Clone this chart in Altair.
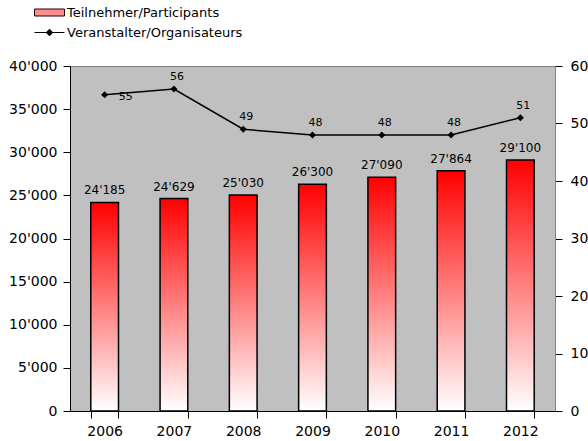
import altair as alt
import pandas as pd

years = ["2006", "2007", "2008", "2009", "2010", "2011", "2012"]
participants = [24185, 24629, 25030, 26300, 27090, 27864, 29100]
organisers = [55, 56, 49, 48, 48, 48, 51]
series = ["Teilnehmer/Participants", "Veranstalter/Organisateurs"]
left_ticks = [0, 5000, 10000, 15000, 20000, 25000, 30000, 35000, 40000]
right_ticks = [0, 10, 20, 30, 40, 50, 60]

df = pd.DataFrame({"year": years, "participants": participants, "organisers": organisers})

FONT = "DejaVu Sans"
fmt_axis = "replace(format(datum.value, ','), ',', \"'\")"
fmt_bar = "replace(format(datum.participants, ','), ',', \"'\")"

x = alt.X(
    "year:N", title=None, sort=years,
    scale=alt.Scale(paddingInner=0.6, paddingOuter=0.3),
    axis=alt.Axis(labelAngle=0, tickBand="extent", tickSize=7, tickColor="black",
                  domainColor="black", labelFontSize=14, labelPadding=6),
)

gradient = alt.LinearGradient(
    gradient="linear",
    stops=[alt.GradientStop(color="#ff0000", offset=0), alt.GradientStop(color="#ffffff", offset=1)],
    x1=0, x2=0, y1=0, y2=1,
)

y_left = alt.Y(
    "participants:Q", title=None, scale=alt.Scale(domain=[0, 40000]),
    axis=alt.Axis(values=left_ticks, labelExpr=fmt_axis, grid=False, tickSize=7,
                  tickColor="black", domainColor="black", labelFontSize=14, labelPadding=6),
)

base = alt.Chart(df)

bars = base.mark_bar(fill=gradient, stroke="black", strokeWidth=1.5).encode(x=x, y=y_left)
bar_text = base.transform_calculate(lbl=fmt_bar).mark_text(
    dy=-12, fontSize=12, font=FONT, color="black", baseline="middle"
).encode(x=x, y="participants:Q", text="lbl:N")

left = alt.layer(bars, bar_text)

y_right = alt.Y(
    "organisers:Q", title=None, scale=alt.Scale(domain=[0, 60]),
    axis=alt.Axis(orient="right", values=right_ticks, grid=False, tickSize=7,
                  tickColor="black", domainColor="#808080", labelFontSize=14, labelPadding=8),
)

line = base.mark_line(color="black", strokeWidth=1.5).encode(x=x, y=y_right)
pts = base.mark_point(shape="diamond", filled=True, color="black", size=50, opacity=1).encode(x=x, y="organisers:Q")
lab_first = base.transform_filter("datum.year == '2006'").mark_text(
    dx=21, dy=2, fontSize=11, font=FONT, color="black", baseline="middle"
).encode(x=x, y="organisers:Q", text="organisers:Q")
lab_rest = base.transform_filter("datum.year != '2006'").mark_text(
    dx=3, dy=-12, fontSize=11, font=FONT, color="black", baseline="middle"
).encode(x=x, y="organisers:Q", text="organisers:Q")

rect_path = "M-3,-0.7H3V0.7H-3Z"
line_path = "M-3,-0.12H3V0.12H-3ZM0,-0.75L0.75,0L0,0.75L-0.75,0Z"
common = dict(
    title=None, orient="none", legendX=-27, legendY=-60, symbolSize=100,
    labelOffset=11, rowPadding=6, padding=0, labelFontSize=13, labelFont=FONT,
    labelColor="black", labelLimit=0,
)
leg_fill = alt.Legend(symbolOpacity=1, **common)
leg_outline = alt.Legend(symbolStrokeWidth=1, **common)

legend_fill = base.transform_calculate(s="'Veranstalter/Organisateurs'").mark_point(
    filled=True, size=0
).encode(
    x=x, y="organisers:Q",
    color=alt.Color("s:N", scale=alt.Scale(domain=series, range=["#ff8c8c", "black"]), legend=leg_fill),
    shape=alt.Shape("s:N", scale=alt.Scale(domain=series, range=[rect_path, line_path]), legend=leg_fill),
)
legend_outline = base.transform_calculate(s2="'Veranstalter/Organisateurs'").mark_point(
    filled=False, size=0, shape=rect_path
).encode(
    x=x, y="organisers:Q",
    stroke=alt.Stroke("s2:N", scale=alt.Scale(domain=series, range=["#200000", "transparent"]), legend=leg_outline),
)

right = alt.layer(line, pts, lab_first, lab_rest, legend_fill, legend_outline)

chart = alt.layer(left, right).resolve_scale(y="independent").properties(
    width=485, height=345,
    autosize=alt.AutoSizeParams(type="none"),
    padding={"left": 70, "top": 66, "right": 33, "bottom": 30},
    background="white",
).configure_view(fill="#c0c0c0", stroke="#808080", strokeWidth=1).configure_axis(
    labelFont=FONT, labelColor="black"
)

chart.save("out.html", embed_options={"renderer": "svg", "actions": False})
